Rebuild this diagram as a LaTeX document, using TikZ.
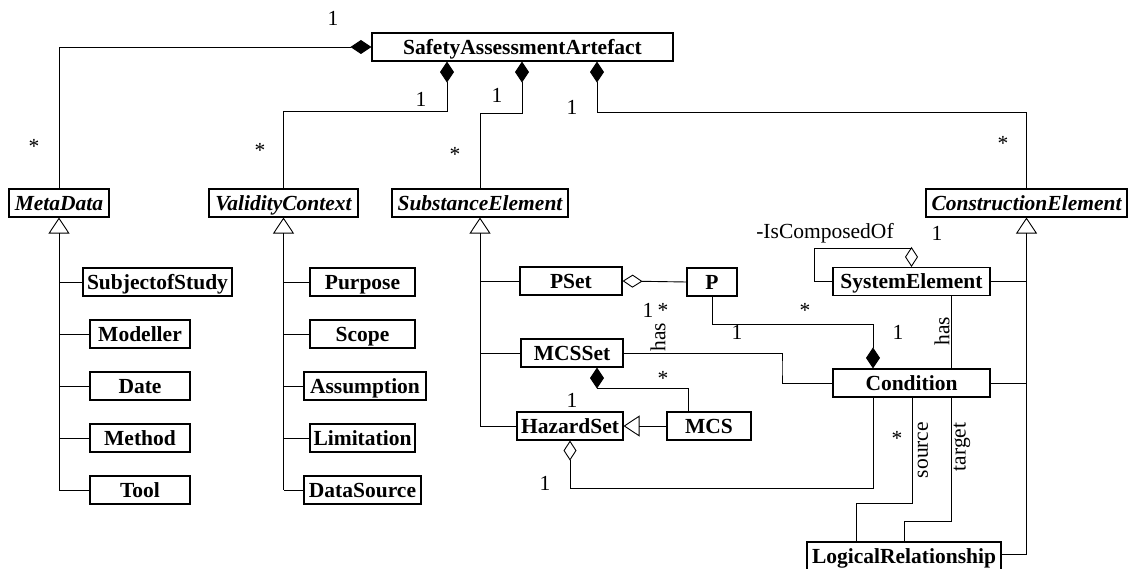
\documentclass[tikz,border=0pt]{standalone}
\usepackage{fontspec}
\setmainfont{Liberation Serif}
\usetikzlibrary{arrows.meta}
\begin{document}
\begin{tikzpicture}[x=1pt,y=-1pt,
  cls/.style={draw, line width=1.1pt, minimum height=28pt, inner sep=0pt,
    text height=14.5pt, text depth=0pt,
    font=\fontsize{21.5}{24}\selectfont\bfseries},
  abs/.style={cls, font=\fontsize{21.5}{24}\selectfont\bfseries\itshape},
  lbl/.style={inner sep=0pt, font=\fontsize{21.5}{24}\selectfont},
  star/.style={lbl, yshift=-3pt},
  conn/.style={line width=0.9pt},
  comp/.style={conn, -{Diamond[length=21pt,width=14pt]}},
  agg/.style={conn, -{Diamond[open,length=20pt,width=13pt]}},
  gen/.style={conn, -{Triangle[open,length=16pt,width=21pt]}},
]
\useasboundingbox (0,0) rectangle (1130,569);

% root and abstract classes
\node[cls, minimum width=301pt] (saa) at (522.5,47) {SafetyAssessmentArtefact};
\node[abs, minimum width=100pt] (meta) at (59,203) {MetaData};
\node[abs, minimum width=149pt] (valid) at (283.5,203) {ValidityContext};
\node[abs, minimum width=176pt] (subst) at (480,203) {SubstanceElement};
\node[abs, minimum width=201pt] (constr) at (1026.5,203) {ConstructionElement};

% meta data
\node[cls, minimum width=149pt] (subj) at (157.5,282) {SubjectofStudy};
\node[cls, minimum width=100pt] (modeller) at (140,334) {Modeller};
\node[cls, minimum width=100pt] (date) at (140,386) {Date};
\node[cls, minimum width=100pt] (method) at (140,438) {Method};
\node[cls, minimum width=100pt] (tool) at (140,490) {Tool};

% validity context
\node[cls, minimum width=105pt] (purpose) at (362.5,282) {Purpose};
\node[cls, minimum width=105pt] (scope) at (362.5,334) {Scope};
\node[cls, minimum width=122pt] (assumption) at (365,386) {Assumption};
\node[cls, minimum width=105pt] (limitation) at (362.5,438) {Limitation};
\node[cls, minimum width=117pt] (datasource) at (362.5,490) {DataSource};

% substance elements
\node[cls, minimum width=102pt] (pset) at (571,281) {PSet};
\node[cls, minimum width=50pt] (p) at (712,282) {P};
\node[cls, minimum width=102pt] (mcsset) at (572,353) {MCSSet};
\node[cls, minimum width=106pt] (hazardset) at (570,426) {HazardSet};
\node[cls, minimum width=84pt] (mcs) at (709,426) {MCS};

% construction elements
\node[cls, minimum width=157pt] (syselem) at (911.5,281.5) {SystemElement};
\node[cls, minimum width=157pt] (condition) at (911.5,383) {Condition};
\node[cls, minimum width=194pt] (logrel) at (904,556) {LogicalRelationship};

% bend points
\coordinate (vcbend) at (447,111);
\coordinate (sebend) at (522,113);
\coordinate (cebend) at (597,112);
\coordinate (mcbend) at (597,388);
\coordinate (pcbend) at (873,324);
\coordinate (mccbend) at (782,368);
\coordinate (loopc) at (814,248);
\coordinate (hzbend) at (570,488);
\coordinate (srcbend) at (856,503);
\coordinate (tgtbend) at (904,521);

% compositions of the artefact
\draw[comp] (meta.north) |- (saa.west);
\draw[comp] (valid.north) |- (vcbend) -- (saa.south -| vcbend);
\draw[comp] (subst.north) |- (sebend) -- (saa.south -| sebend);
\draw[comp] (constr.north) |- (cebend) -- (saa.south -| cebend);

% generalisations
\draw[gen] (tool.west -| meta.south) -- (meta.south);
\foreach \n in {subj,modeller,date,method,tool}
  \draw[conn] (\n.west) -- (\n.west -| meta.south);
\draw[gen] (datasource.west -| valid.south) -- (valid.south);
\foreach \n in {purpose,scope,assumption,limitation,datasource}
  \draw[conn] (\n.west) -- (\n.west -| valid.south);
\draw[gen] (hazardset.west -| subst.south) -- (subst.south);
\foreach \n in {pset,mcsset,hazardset}
  \draw[conn] (\n.west) -- (\n.west -| subst.south);
\draw[gen] ([yshift=2pt]logrel.east -| constr.south) -- (constr.south);
\draw[conn] (syselem.east) -- (syselem.east -| constr.south);
\draw[conn] (condition.east) -- (condition.east -| constr.south);
\draw[conn] ([yshift=2pt]logrel.east) -- ([yshift=2pt]logrel.east -| constr.south);
\draw[gen] (mcs.west) -- (hazardset.east);

% associations
\draw[agg] (p.west) -- (pset.east);
\draw[comp] ([xshift=-21pt]mcs.north) |- (mcbend) -- (mcsset.south -| mcbend);
\draw[comp] (p.south) |- (pcbend) -- (condition.north -| pcbend);
\draw[conn] (mcsset.east) -| (mccbend) |- (condition.west);
\draw[agg] (syselem.west) -| (loopc) -| (syselem.north);
\draw[conn] ([xshift=39.5pt]syselem.south) -- ([xshift=39.5pt]condition.north);
\draw[agg] ([xshift=-38.5pt]condition.south) |- (hzbend) -- (hazardset.south);
\draw[conn] ([xshift=0.5pt]condition.south) |- (srcbend) -- (logrel.north -| srcbend);
\draw[conn] ([xshift=39.5pt]condition.south) |- (tgtbend) -- (logrel.north -| tgtbend);

% multiplicities and roles
\node[lbl] (m1) at (333,18) {1};
\node[star] (m2) at (34,143) {*};
\node[lbl] (m3) at (421,99) {1};
\node[star] (m4) at (260,147) {*};
\node[lbl] (m5) at (497,95) {1};
\node[star] (m6) at (455,151) {*};
\node[lbl] (m7) at (572,107) {1};
\node[star] (m8) at (1003,140) {*};
\node[lbl] (r1) at (825,233) {-IsComposedOf};
\node[lbl] (m9) at (937,233) {1};
\node[lbl] (m10) at (648,310) {1};
\node[star] (m11) at (663,307) {*};
\node[lbl, rotate=90] (r2) at (658,337) {has};
\node[star] (m12) at (805,307) {*};
\node[lbl] (m13) at (737,332) {1};
\node[lbl] (m14) at (898,332) {1};
\node[lbl, rotate=90] (r3) at (942,331) {has};
\node[star] (m15) at (663,375) {*};
\node[lbl] (m16) at (572,400) {1};
\node[lbl] (m17) at (545,483) {1};
\node[star] (m18) at (897,435) {*};
\node[lbl, rotate=90] (r4) at (923,450) {source};
\node[lbl, rotate=90] (r5) at (962,447) {target};
\end{tikzpicture}
\end{document}
